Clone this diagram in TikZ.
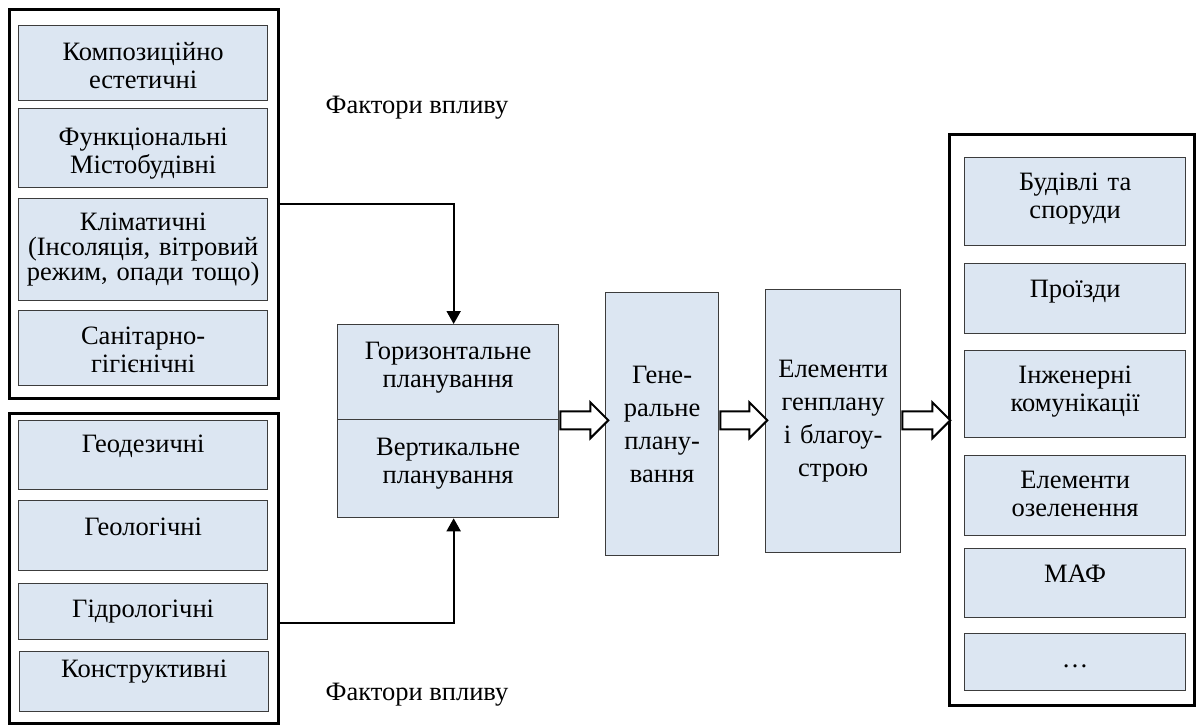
\documentclass[tikz,border=0pt]{standalone}
\usepackage{fontspec}
\setmainfont{Liberation Serif}
\usetikzlibrary{arrows.meta,shapes.arrows}
\definecolor{boxfill}{RGB}{220,230,242}
\definecolor{boxline}{RGB}{60,60,60}

\begin{document}
\begin{tikzpicture}[x=1pt,y=-1pt,
  every node/.style={font=\fontsize{26.5}{28}\selectfont},
  fbox/.style={draw=boxline, line width=1.3pt, fill=boxfill, anchor=north west,
               inner sep=0pt, text width=#1, align=center},
  fbox/.default=249pt,
  outer/.style={draw, line width=2.5pt, anchor=north west, inner sep=0pt},
  conn/.style={line width=2pt, -{Triangle[width=14pt,length=13pt]}},
  harrow/.style={single arrow, draw, line width=2pt, fill=white, minimum width=34pt,
                 single arrow head extend=9pt, inner sep=8pt, anchor=tail}
]
\useasboundingbox (0,0) rectangle (1197,724);

% Factors, upper group
\node[outer, minimum width=269pt, minimum height=389pt] (fl1) at (8,8) {};
\node[fbox, text height=35pt, text depth=40pt] (k1) at (18,25) {Композиційно\\естетичні};
\node[fbox, text height=37pt, text depth=42pt] (k2) at (18,108) {Функціональні\\Містобудівні};
\node[fbox, text height=32pt, text depth=70pt, font=\fontsize{26.5}{25}\selectfont] (k3) at (18,198)
  {Кліматичні\\(Інсоляція, вітровий\\режим, опади тощо)};
\node[fbox, text height=34pt, text depth=41pt] (k4) at (18,310) {Санітарно-\\гігієнічні};

% Factors, lower group
\node[outer, minimum width=269pt, minimum height=310pt] (fl2) at (8,412) {};
\node[fbox, text height=32pt, text depth=37pt] (g1) at (18,420) {Геодезичні};
\node[fbox, text height=35pt, text depth=35pt] (g2) at (18,500) {Геологічні};
\node[fbox, text height=34pt, text depth=22pt] (g3) at (18,583) {Гідрологічні};
\node[fbox, text height=26pt, text depth=34pt] (g4) at (19,651) {Конструктивні};

\node[anchor=base] (fv1) at (417,113) {Фактори впливу};
\node[anchor=base] (fv2) at (417,700) {Фактори впливу};

% Planning
\node[fbox=221pt, text height=35pt, text depth=60pt] (hor) at (337,324) {Горизонтальне\\планування};
\node[fbox=221pt, text height=36pt, text depth=62pt] (vert) at (337,419) {Вертикальне\\планування};
\node[fbox=113pt, minimum height=263pt, font=\fontsize{26.5}{33}\selectfont] (gen) at (605,292)
  {Гене-\\ральне\\плану-\\вання};
\node[fbox=135pt, minimum height=263pt, font=\fontsize{26.5}{33}\selectfont] (elem) at (765,289)
  {Елементи\\генплану\\і благоу-\\строю};

% Elements
\node[outer, minimum width=245pt, minimum height=571pt] (res) at (948,133) {};
\node[fbox=221pt, text height=33pt, text depth=55pt] (r1) at (964,157) {Будівлі та\\споруди};
\node[fbox=221pt, text height=34pt, text depth=36pt] (r2) at (964,263) {Проїзди};
\node[fbox=221pt, text height=33pt, text depth=54pt] (r3) at (964,350) {Інженерні\\комунікації};
\node[fbox=221pt, text height=33pt, text depth=47pt] (r4) at (964,455) {Елементи\\озеленення};
\node[fbox=221pt, text height=34pt, text depth=35pt] (r5) at (964,548) {МАФ};
\node[fbox=221pt, text height=34pt, text depth=23pt] (r6) at (964,633) {…};

% Connectors
\draw[conn] (fl1.east) -| ([xshift=5.5pt]hor.north);
\draw[conn] ([yshift=-55pt]fl2.east) -| ([xshift=5.5pt]vert.south);

\node[harrow, minimum height=48pt] (a1) at (hor.south east) {};
\node[harrow, minimum height=47pt] (a2) at (gen.east |- hor.south east) {};
\node[harrow, minimum height=48pt] (a3) at (elem.east |- hor.south east) {};

\end{tikzpicture}
\end{document}
